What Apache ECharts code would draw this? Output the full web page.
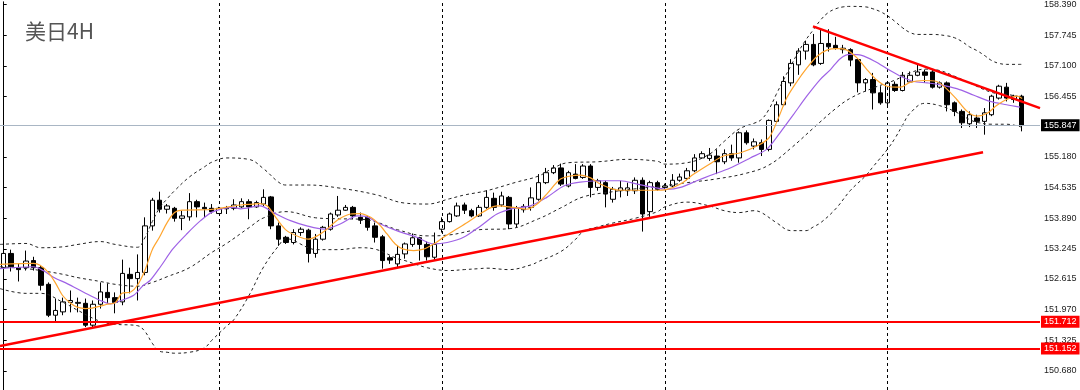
<!DOCTYPE html>
<html>
<head>
<meta charset="utf-8">
<script src="https://cdn.jsdelivr.net/npm/echarts@6/dist/echarts.min.js"></script>
<style>
html,body{margin:0;padding:0;background:#fff;}
#chart{width:1080px;height:390px;}
</style>
</head>
<body>
<div id="chart"></div>
<script>
// ---- data ----
const titleText = '美日4H';
const categories = Array.from({length: 140}, (_, i) => 'b' + i);
// [open, close, low, high]
const candles = [
[152.85,153.15,152.79,153.19],[153.15,152.87,152.77,153.23],[152.85,152.81,152.56,152.94],[152.85,152.99,152.79,153.21],
[153.00,152.85,152.79,153.08],[152.85,152.48,152.37,152.90],[152.50,151.85,151.81,152.54],[151.85,151.95,151.72,152.20],
[151.92,152.13,151.85,152.22],[152.12,152.16,151.91,152.37],[152.10,152.12,151.91,152.22],[152.10,151.64,151.60,152.20],
[151.64,152.08,151.58,152.16],[152.08,152.34,151.99,152.54],[152.33,152.22,152.10,152.52],[152.22,152.12,151.89,152.33],
[152.13,152.73,152.06,153.02],[152.71,152.62,152.31,152.85],[152.62,152.75,152.16,153.13],[152.75,153.73,152.69,153.91],
[153.73,154.27,153.63,154.32],[154.27,154.08,154.01,154.45],[154.08,154.15,153.99,154.19],[154.10,153.89,153.82,154.13],
[153.89,153.94,153.64,154.05],[153.92,154.24,153.84,154.42],[154.24,154.13,153.91,154.28],[154.12,154.09,153.91,154.22],
[154.10,154.03,153.99,154.19],[153.99,154.10,153.98,154.13],[154.09,154.11,153.98,154.15],[154.10,154.17,154.06,154.29],
[154.13,154.24,154.11,154.31],[154.24,154.13,153.87,154.29],[154.13,154.22,154.11,154.26],[154.19,154.33,154.15,154.50],
[154.34,153.73,153.66,154.36],[153.73,153.45,153.31,153.80],[153.49,153.38,153.35,153.52],[153.38,153.59,153.34,153.66],
[153.59,153.66,153.52,153.70],[153.64,153.15,152.96,153.67],[153.15,153.45,153.06,153.56],[153.45,153.70,153.42,153.73],
[153.66,153.98,153.63,154.01],[153.96,154.06,153.92,154.36],[154.06,154.12,154.05,154.17],[154.12,153.94,153.87,154.15],
[153.91,153.85,153.77,154.01],[153.91,153.70,153.63,153.94],[153.73,153.49,153.38,153.80],[153.50,153.00,152.83,153.54],
[153.06,153.01,152.93,153.10],[152.93,153.13,152.86,153.31],[153.14,153.35,153.04,153.38],[153.34,153.48,153.29,153.57],
[153.48,153.34,153.00,153.50],[153.34,153.08,153.00,153.40],[153.07,153.34,153.00,153.59],[153.66,153.82,153.59,153.91],
[153.82,153.98,153.80,154.01],[153.94,154.15,153.92,154.22],[154.17,154.06,153.98,154.22],[154.05,153.94,153.91,154.09],
[153.94,154.12,153.92,154.17],[154.12,154.33,154.09,154.48],[154.31,154.12,154.05,154.43],[154.17,154.36,154.13,154.45],
[154.33,153.77,153.66,154.36],[153.77,154.11,153.70,154.15],[154.07,154.14,154.01,154.19],[154.12,154.32,154.05,154.54],
[154.29,154.64,154.26,154.82],[154.64,154.85,154.61,154.95],[154.85,154.95,154.82,155.01],[154.95,154.61,154.57,155.04],
[154.57,154.85,154.54,154.89],[154.82,154.73,154.71,155.03],[154.75,154.99,154.72,155.03],[154.99,154.54,154.33,155.03],
[154.54,154.68,154.47,154.72],[154.64,154.40,154.12,154.68],[154.29,154.50,154.22,154.55],[154.47,154.53,154.33,154.68],
[154.47,154.53,154.36,154.64],[154.47,154.69,154.40,154.75],[154.69,153.98,153.61,154.75],[154.03,154.64,153.92,154.68],
[154.64,154.50,154.47,154.68],[154.54,154.57,154.50,154.62],[154.57,154.69,154.54,154.82],[154.69,154.76,154.66,154.83],
[154.73,154.89,154.69,154.95],[154.89,155.16,154.86,155.24],[155.16,155.25,155.14,155.30],[155.15,155.22,155.10,155.37],
[155.20,155.08,154.82,155.34],[155.08,155.25,155.03,155.34],[155.25,155.16,155.10,155.44],[155.16,155.69,155.06,155.72],
[155.69,155.48,155.44,155.74],[155.41,155.50,155.34,155.57],[155.48,155.34,155.20,155.55],[155.34,155.95,155.30,155.97],
[155.93,156.28,155.91,156.35],[156.28,156.77,156.25,156.88],[156.74,157.15,156.67,157.24],[157.12,157.41,156.91,157.47],
[157.41,157.55,157.23,157.63],[157.55,157.12,157.09,157.77],[157.15,157.57,157.12,157.87],[157.57,157.50,157.40,157.87],
[157.53,157.47,157.44,157.71],[157.44,157.47,157.36,157.54],[157.44,157.22,157.09,157.47],[157.23,156.74,156.54,157.26],
[156.74,156.81,156.56,156.84],[156.81,156.53,156.18,156.95],[156.53,156.32,156.28,156.67],[156.32,156.74,156.23,156.77],
[156.71,156.58,156.55,156.77],[156.58,156.90,156.56,156.97],[156.76,156.90,156.74,156.98],[156.90,156.97,156.88,157.15],
[156.97,156.90,156.74,157.02],[156.97,156.65,156.62,157.02],[156.65,156.74,156.62,156.77],[156.74,156.28,156.14,156.77],
[156.32,156.14,156.04,156.35],[156.14,155.90,155.79,156.18],[155.88,156.07,155.81,156.14],[156.00,155.93,155.79,156.07],
[155.93,156.11,155.65,156.21],[156.07,156.46,156.04,156.49],[156.42,156.67,156.39,156.70],[156.65,156.42,156.35,156.74],
[156.39,156.46,156.32,156.49],[156.46,155.847,155.72,156.49]
];
// fast MA (orange) [bar index, price]
const maFast = [[-0.5,152.92],[4.0,152.94],[4.9,152.90],[6.0,152.75],[7.0,152.52],[7.9,152.27],[9.0,152.10],[9.9,152.02],[11.0,151.99],[11.9,152.00],[13.0,152.04],[13.9,152.08],[15.0,152.11],[15.9,152.31],[17.1,152.34],[18.0,152.48],[19.0,152.79],[20.0,153.23],[21.0,153.50],[22.0,153.80],[23.0,154.01],[24.0,154.06],[27.4,154.07],[28.2,154.08],[31.9,154.17],[33.6,154.19],[34.5,154.20],[35.5,154.15],[36.8,153.87],[38.1,153.63],[39.9,153.49],[41.0,153.45],[42.2,153.52],[43.5,153.66],[44.9,153.85],[46.7,153.98],[48.0,153.99],[49.4,153.91],[50.5,153.77],[51.6,153.56],[52.7,153.35],[53.8,153.24],[55.2,153.21],[56.5,153.24],[57.9,153.35],[59.2,153.49],[60.6,153.63],[62.4,153.80],[64.2,153.99],[65.5,154.11],[66.4,154.15],[68.6,154.12],[70.4,154.08],[71.8,154.19],[73.1,154.40],[74.9,154.71],[76.3,154.78],[77.6,154.80],[79.0,154.74],[80.3,154.61],[82.1,154.50],[83.9,154.48],[85.7,154.48],[87.5,154.48],[89.3,154.50],[91.1,154.61],[92.9,154.82],[95.1,155.04],[96.9,155.20],[99.2,155.27],[101.4,155.41],[103.0,155.58],[104.1,155.93],[105.4,156.42],[106.8,156.77],[108.1,157.05],[109.5,157.30],[110.8,157.43],[112.2,157.46],[113.5,157.43],[114.9,157.26],[116.2,157.02],[117.6,156.79],[118.9,156.67],[120.7,156.65],[122.0,156.75],[123.8,156.79],[125.6,156.77],[126.9,156.62],[128.3,156.39],[129.7,156.14],[131.0,156.04],[132.4,156.10],[133.7,156.27],[135.0,156.39],[136.4,156.46],[137.1,156.41]];
// slow MA (purple)
const maSlow = [[-0.5,152.83],[4.0,152.87],[5.3,152.79],[6.7,152.65],[8.6,152.51],[10.7,152.34],[13.0,152.16],[14.4,152.09],[15.3,152.13],[17.5,152.27],[18.8,152.48],[19.7,152.58],[21.1,152.87],[22.8,153.25],[24.7,153.57],[26.5,153.84],[28.2,154.03],[30.9,154.12],[31.9,154.09],[34.5,154.15],[36.3,154.01],[38.6,153.84],[40.8,153.73],[43.1,153.66],[45.3,153.77],[47.6,153.94],[48.9,153.92],[50.7,153.77],[52.9,153.63],[55.6,153.49],[57.9,153.35],[59.7,153.38],[61.9,153.49],[64.2,153.73],[66.4,153.98],[68.6,154.10],[70.9,154.15],[73.1,154.33],[75.4,154.57],[77.6,154.65],[81.2,154.68],[83.0,154.68],[85.3,154.61],[87.5,154.54],[89.3,154.50],[91.1,154.54],[93.3,154.68],[95.1,154.79],[97.8,154.95],[100.5,155.16],[102.7,155.34],[104.5,155.69],[106.3,156.07],[108.1,156.46],[109.9,156.81],[111.3,157.02],[112.6,157.25],[113.9,157.34],[115.5,157.32],[117.3,157.19],[119.1,157.02],[120.7,156.88],[122.5,156.77],[124.3,156.74],[126.1,156.70],[128.3,156.62],[130.6,156.48],[132.8,156.35],[135.0,156.28],[136.8,156.23]];
// Bollinger bands (dashed)
const bbUpper = [[-0.5,153.34],[3,153.36],[5,153.27],[8,153.29],[10,153.34],[13,153.40],[15,153.34],[18,153.28],[19,153.48],[20,153.82],[21,154.11],[22,154.30],[23,154.47],[25,154.76],[27,154.97],[28,155.07],[30,155.16],[33,155.13],[35,154.93],[37,154.65],[38,154.59],[41,154.59],[45,154.53],[50,154.39],[54,154.21],[57,154.19],[60,154.30],[62,154.38],[65,154.47],[69,154.65],[72,154.78],[74,154.95],[76,155.06],[80,155.08],[84,155.13],[88,155.09],[89,155.03],[92,155.06],[95,155.24],[97,155.51],[99,155.77],[101,155.89],[102,155.97],[103,156.18],[104,156.50],[105,156.81],[106,157.11],[107,157.40],[108,157.65],[109,157.86],[110,158.07],[111,158.22],[112,158.30],[113,158.34],[114,158.35],[116,158.34],[117,158.30],[118,158.24],[119,158.15],[120,158.03],[121,157.90],[122,157.80],[123,157.76],[125,157.76],[127,157.73],[128,157.69],[129,157.61],[130,157.50],[131,157.42],[132,157.32],[133,157.21],[134,157.15],[135,157.13],[137,157.13]];
const bbMid = [[-0.5,152.87],[3,152.83],[5,152.79],[8,152.71],[10,152.64],[13,152.56],[15,152.50],[18,152.46],[20,152.54],[22,152.66],[25,152.85],[28,153.17],[30,153.36],[33,153.69],[35,153.90],[38,154.03],[42,153.90],[45,153.88],[48,153.87],[50,153.82],[53,153.65],[57,153.52],[60,153.54],[64,153.65],[68,153.67],[72,153.88],[75,154.11],[78,154.34],[82,154.45],[85,154.51],[88,154.56],[92,154.64],[96,154.72],[100,154.84],[103,155.01],[106,155.37],[109,155.79],[112,156.20],[114,156.42],[117,156.63],[120,156.80],[122,156.95],[124,157.03],[126,157.00],[128,156.88],[130,156.74],[133,156.54],[135,156.50],[137,156.44]];
const bbLower = [[-0.5,152.41],[3,152.31],[5,152.31],[8,152.12],[10,151.95],[13,151.72],[15,151.66],[18,151.63],[19,151.51],[20,151.26],[21,151.09],[22,151.07],[23,151.05],[25,151.07],[27,151.16],[28,151.32],[30,151.62],[31,151.76],[33,152.26],[35,152.87],[37,153.31],[38,153.46],[41,153.27],[42,153.23],[45,153.23],[48,153.27],[50,153.24],[53,153.04],[54,153.00],[57,152.85],[60,152.79],[62,152.81],[64,152.83],[65,152.84],[68,152.81],[71,152.91],[72,152.98],[75,153.19],[77,153.45],[78,153.61],[80,153.71],[82,153.79],[85,153.89],[88,154.03],[89,154.13],[92,154.23],[95,154.15],[97,154.05],[99,154.01],[101,154.05],[102,154.01],[104,153.80],[106,153.63],[108,153.63],[109,153.71],[110,153.80],[112,154.09],[114,154.48],[116,154.78],[117,154.97],[119,155.35],[120,155.58],[121,155.85],[122,156.10],[124,156.31],[126,156.26],[128,156.14],[130,155.97],[131,155.91],[133,155.87],[135,155.87],[137,155.81]];
// drawn trend lines
const trendUp = [[-0.5,151.20],[131.83,155.28]];
const trendDown = [[108.94,157.93],[139.5,156.21]];
const levelLines = [151.712, 151.152];
const lastPrice = 155.847;
const separators = ['b29','b59','b89','b119'];
const yTicks = [158.390,157.745,157.100,156.455,155.180,154.535,153.890,153.245,152.615,151.970,151.325,150.680];
const yMin = 150.2756, yMax = 158.4466;

// ---- chart ----
const chart = echarts.init(document.getElementById('chart'), null, {renderer: 'canvas'});
const axisFont = 'Liberation Sans';
const boxLabel = (txt, bg) => ({
  show: true, position: 'end', distance: 1, formatter: txt,
  backgroundColor: bg, color: '#fff', padding: [1, 3], fontSize: 9, lineHeight: 10,
  fontFamily: axisFont
});
const markData = [];
separators.forEach(s => markData.push({xAxis: s, lineStyle: {color: '#000', width: 1, type: [3, 3]}, label: {show: false}}));
markData.push({yAxis: lastPrice, lineStyle: {color: '#a9b6c4', width: 1, type: 'solid'}, label: boxLabel(lastPrice.toFixed(3), '#000')});
levelLines.forEach(v => markData.push({yAxis: v, lineStyle: {color: '#ff0000', width: 2, type: 'solid'}, label: boxLabel(v.toFixed(3), '#ff0000')}));

const lineSeries = (data, color, dashed, z, smooth, width) => ({
  type: 'line', xAxisIndex: 1, yAxisIndex: 0, data: data, symbol: 'none', smooth: smooth,
  lineStyle: {color: color, width: width, type: dashed ? [3, 3] : 'solid'}, z: z, silent: true
});

chart.setOption({
  animation: false,
  backgroundColor: '#fff',
  title: {
    text: titleText, left: 20, top: 16,
    textStyle: {fontSize: 21, fontWeight: 'normal', color: '#555', fontFamily: 'Noto Sans CJK SC'}
  },
  grid: {left: 0, right: 40, top: 0, bottom: 0, containLabel: false},
  xAxis: [
    {type: 'category', data: categories, boundaryGap: true, show: false},
    {type: 'value', min: -0.5, max: 139.5, show: false}
  ],
  yAxis: {
    type: 'value', position: 'right', min: yMin, max: yMax, offset: -2, scale: true,
    axisLine: {show: true, lineStyle: {color: '#000', width: 1}},
    axisTick: {show: true, inside: false, length: 3, lineStyle: {color: '#000'}, customValues: yTicks},
    axisLabel: {show: true, margin: 6, fontSize: 9, color: '#222', fontFamily: axisFont,
      customValues: yTicks, formatter: v => v.toFixed(3)},
    splitLine: {show: false}
  },
  series: [
    {
      type: 'candlestick', xAxisIndex: 0, yAxisIndex: 0, data: candles, barWidth: 5, z: 3,
      itemStyle: {color: '#ffffff', color0: '#000000', borderColor: '#000000', borderColor0: '#000000', borderWidth: 1},
      markLine: {silent: true, symbol: ['none', 'none'], animation: false, data: markData}
    },
    lineSeries(bbUpper, '#222222', true, 4, 0.4, 1),
    lineSeries(bbMid, '#222222', true, 4, 0.4, 1),
    lineSeries(bbLower, '#222222', true, 4, 0.4, 1),
    lineSeries(maSlow, '#9f62e6', false, 5, 0.3, 1.2),
    lineSeries(maFast, '#ffa52e', false, 6, 0.3, 1.2),
    {type: 'line', xAxisIndex: 1, data: trendUp, symbol: 'none', lineStyle: {color: '#ff0000', width: 2.5}, z: 7, silent: true},
    {type: 'line', xAxisIndex: 1, data: trendDown, symbol: 'none', lineStyle: {color: '#ff0000', width: 2.5}, z: 7, silent: true}
  ]
});
</script>
</body>
</html>
